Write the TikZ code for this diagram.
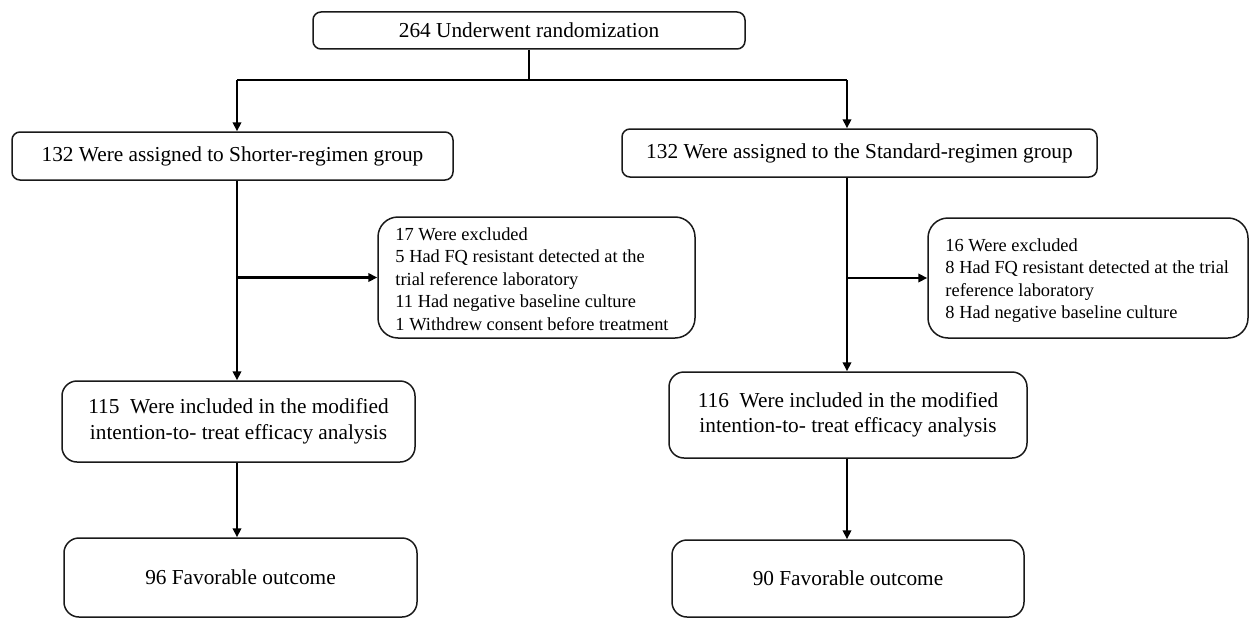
\documentclass[tikz,border=0pt]{standalone}
\usepackage{fontspec}
\setmainfont{Liberation Serif}
\usetikzlibrary{arrows.meta}
\begin{document}
\begin{tikzpicture}[x=1pt,y=-1pt,
  mainbox/.style={draw=black!90, line width=1.5pt, rounded corners=8pt, inner sep=0pt,
    font=\fontsize{21.3}{25.5}\selectfont, align=center},
  resbox/.style={draw=black!90, line width=1.5pt, rounded corners=15pt, inner sep=0pt,
    font=\fontsize{21.3}{25.5}\selectfont, align=center},
  exbox/.style={draw=black!90, line width=1.5pt, rounded corners=20pt, inner sep=0pt},
  extext/.style={inner sep=0pt, anchor=west, align=left, font=\fontsize{18.4}{22.5}\selectfont},
  conn/.style={draw=black, line width=2.2pt},
  arr/.style={conn, -{Triangle[length=9pt,width=8.5pt]}}
]
\useasboundingbox (0,0) rectangle (1250,618);

\node[mainbox, minimum width=432pt, minimum height=37pt] (rand) at (529,30.5) {264 Underwent randomization};
\node[mainbox, minimum width=441pt, minimum height=48pt] (short) at (232.5,156) {132 Were assigned to Shorter-regimen group};
\node[mainbox, minimum width=475pt, minimum height=48pt] (std) at (859.5,153) {132 Were assigned to the Standard-regimen group};

\node[exbox, minimum width=317pt, minimum height=121pt] (exL) at (536.5,277.5) {};
\node[extext] (exLt) at ([xshift=18pt,yshift=-1.5pt]exL.west)
  {17 Were excluded\\5 Had FQ resistant detected at the\\trial reference laboratory\\11 Had negative baseline culture\\1 Withdrew consent before treatment};
\node[exbox, minimum width=320pt, minimum height=120pt] (exR) at (1088,278) {};
\node[extext] (exRt) at ([xshift=18pt,yshift=-2.5pt]exR.west)
  {16 Were excluded\\8 Had FQ resistant detected at the trial\\reference laboratory\\8 Had negative baseline culture};

\node[resbox, minimum width=353pt, minimum height=81pt] (incL) at (238.5,421.5)
  {115\ \ Were included in the modified\\intention-to- treat efficacy analysis};
\node[resbox, minimum width=358pt, minimum height=86pt] (incR) at (848,415)
  {116\ \ Were included in the modified\\intention-to- treat efficacy analysis};

\node[resbox, minimum width=353pt, minimum height=79pt] (favL) at (240.5,577.5) {96 Favorable outcome};
\node[resbox, minimum width=352pt, minimum height=77pt] (favR) at (848,578.5) {90 Favorable outcome};

\coordinate (j) at (529,80);
\coordinate (jl) at (237,80);
\coordinate (jr) at (847,80);
\draw[conn] (rand.south) -- (j);
\draw[conn] (jl) -- (jr);
\draw[arr] (jl) -- (jl |- short.north);
\draw[arr] (jr) -- (jr |- std.north);

\draw[arr] (jl |- short.south) -- (jl |- incL.north);
\draw[arr] (jl |- exL.west) -- (exL.west);
\draw[arr] (jl |- incL.south) -- (jl |- favL.north);

\draw[arr] (jr |- std.south) -- (jr |- incR.north);
\draw[arr] (jr |- exR.west) -- (exR.west);
\draw[arr] (jr |- incR.south) -- (jr |- favR.north);
\end{tikzpicture}
\end{document}
